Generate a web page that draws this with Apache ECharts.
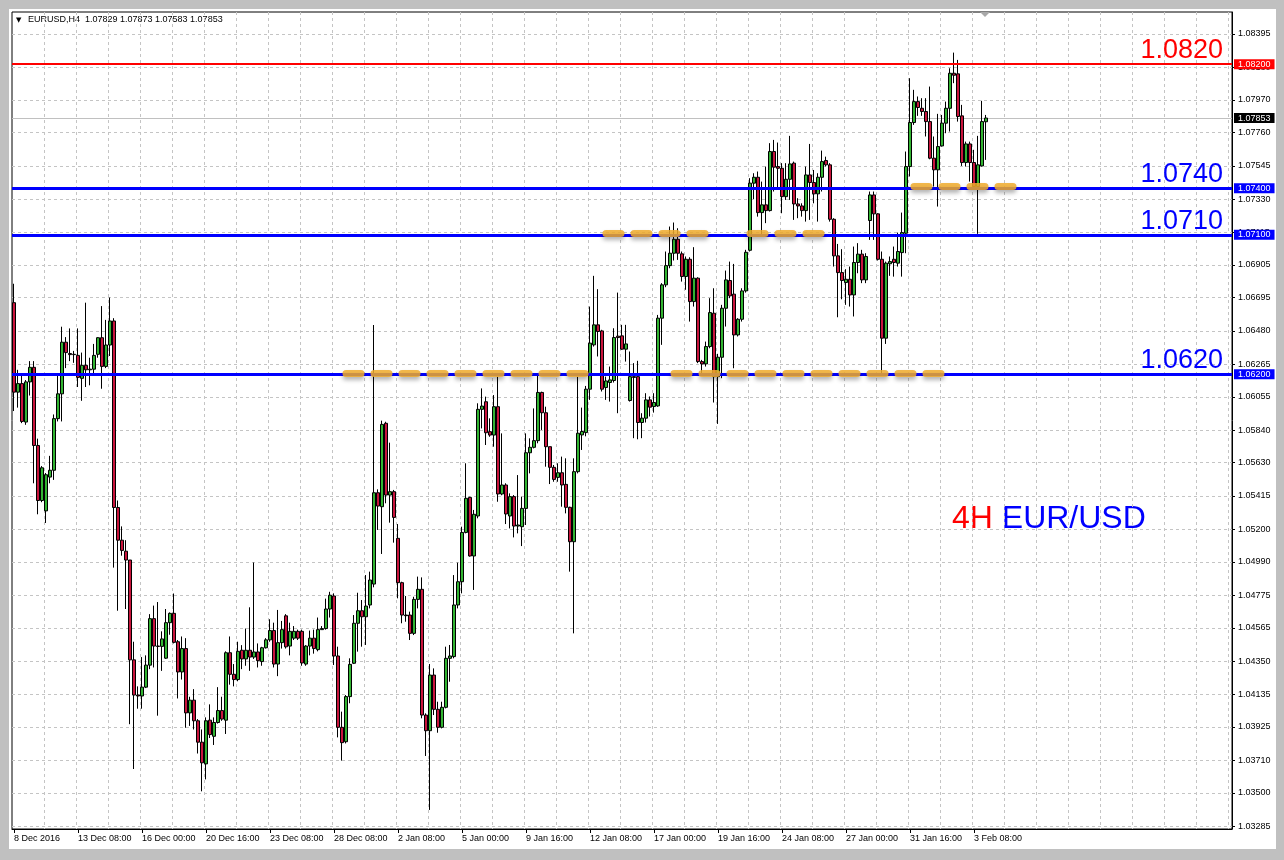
<!DOCTYPE html>
<html>
<head>
<meta charset="utf-8">
<script src="https://cdn.jsdelivr.net/npm/echarts@6/dist/echarts.min.js"></script>
<style>
html,body{margin:0;padding:0;background:#c0c0c0;width:1284px;height:860px;overflow:hidden;}
#panel{position:absolute;left:9px;top:9px;width:1267px;height:840px;background:#ffffff;}
#chart{position:absolute;left:0;top:0;width:1284px;height:860px;}
</style>
</head>
<body>
<div id="panel"></div>
<div id="chart"></div>
<script>
// ---- DATA (EURUSD H4) ----
const symbolName = 'EURUSD,H4';
const opens = [
1.06662,1.06085,1.06140,1.05892,1.06151,1.06245,1.05741,1.05386,1.05319,1.05537,
1.05581,1.05914,1.06074,1.06407,1.06334,1.06327,1.06322,1.06174,1.06258,1.06229,
1.06233,1.06329,1.06436,1.06251,1.06389,1.06544,1.05341,1.05130,1.05059,1.05002,
1.04358,1.04131,1.04125,1.04182,1.04324,1.04624,1.04447,1.04445,1.04369,1.04598,
1.04658,1.04475,1.04280,1.04431,1.04016,1.04098,1.03965,1.03827,1.03687,1.03969,
1.03865,1.03954,1.04031,1.03969,1.04404,1.04265,1.04231,1.04420,1.04364,1.04420,
1.04376,1.04409,1.04347,1.04436,1.04487,1.04547,1.04331,1.04469,1.04642,1.04447,
1.04498,1.04542,1.04542,1.04331,1.04447,1.04498,1.04424,1.04553,1.04560,1.04686,
1.04770,1.04383,1.03923,1.03830,1.04121,1.04336,1.04594,1.04675,1.04636,1.04712,
1.04847,1.05436,1.05346,1.05884,1.05421,1.05443,1.05142,1.04856,1.04647,1.04647,
1.04529,1.04748,1.04813,1.04002,1.03901,1.04260,1.04039,1.03923,1.04052,1.04368,
1.04379,1.04712,1.04862,1.05180,1.05406,1.05028,1.05286,1.05974,1.06023,1.05830,
1.05808,1.05991,1.05428,1.05486,1.05286,1.05411,1.05221,1.05217,1.05335,1.05694,
1.05729,1.05772,1.06083,1.05952,1.05733,1.05600,1.05535,1.05565,1.05490,1.05342,
1.05120,1.05572,1.05809,1.05824,1.06104,1.06390,1.06519,1.06480,1.06115,1.06147,
1.06160,1.06446,1.06448,1.06362,1.06031,1.06185,1.06185,1.05889,1.05917,1.06035,
1.05992,1.05996,1.06562,1.06777,1.06901,1.06981,1.07071,1.06977,1.06831,1.06942,
1.06669,1.06820,1.06282,1.06267,1.06379,1.06594,1.06185,1.06310,1.06626,1.06805,
1.06717,1.06454,1.06555,1.06738,1.07000,1.07433,1.07471,1.07243,1.07293,1.07256,
1.07637,1.07540,1.07529,1.07346,1.07458,1.07562,1.07299,1.07286,1.07256,1.07486,
1.07437,1.07364,1.07471,1.07579,1.07551,1.07200,1.06964,1.06856,1.06792,1.06813,
1.06712,1.06921,1.06975,1.06809,1.07192,1.07357,1.07235,1.06942,1.06433,1.06913,
1.06942,1.06917,1.06985,1.07110,1.07540,1.07824,1.07959,1.07916,1.07895,1.07830,
1.07594,1.07519,1.07673,1.07820,1.07916,1.08142,1.08138,1.07867,1.07566,1.07686,
1.07566,1.07411,1.07544,1.07829
];
const highs = [
1.06784,1.06229,1.06207,1.06163,1.06285,1.06285,1.05785,1.05608,1.05563,1.05674,
1.05941,1.06207,1.06507,1.06440,1.06496,1.06351,1.06496,1.06340,1.06662,1.06307,
1.06396,1.06440,1.06640,1.06551,1.06695,1.06562,1.05386,1.05219,1.05130,1.05002,
1.04475,1.04187,1.04376,1.04387,1.04653,1.04708,1.04731,1.04542,1.04686,1.04664,
1.04786,1.04486,1.04509,1.04498,1.04120,1.04169,1.03976,1.03909,1.03987,1.04071,
1.03987,1.04182,1.04120,1.04413,1.04509,1.04331,1.04475,1.04453,1.04560,1.04697,
1.04986,1.04464,1.04442,1.04498,1.04620,1.04598,1.04680,1.04609,1.04653,1.04598,
1.04576,1.04553,1.04553,1.04453,1.04547,1.04553,1.04631,1.04576,1.04753,1.04797,
1.04787,1.04443,1.04024,1.04131,1.04368,1.04647,1.04791,1.04744,1.04905,1.04927,
1.06518,1.05458,1.05901,1.05894,1.05759,1.05454,1.05234,1.04862,1.04770,1.04669,
1.04765,1.04895,1.04890,1.04013,1.04331,1.04303,1.04088,1.04088,1.04443,1.04454,
1.04905,1.04985,1.05217,1.05626,1.05410,1.05325,1.06013,1.06109,1.06056,1.05916,
1.06066,1.06185,1.05819,1.05497,1.05432,1.05421,1.05550,1.05411,1.05819,1.05787,
1.05980,1.06206,1.06088,1.05991,1.05733,1.05615,1.05626,1.05669,1.05658,1.05346,
1.05658,1.06185,1.05985,1.06125,1.06637,1.06835,1.06749,1.06487,1.06185,1.06250,
1.06497,1.06727,1.06519,1.06519,1.06347,1.06272,1.06287,1.05949,1.06078,1.06057,
1.06078,1.06583,1.06788,1.06992,1.07153,1.07179,1.07142,1.06992,1.06960,1.06955,
1.07020,1.06826,1.06293,1.06411,1.06691,1.06755,1.06332,1.06648,1.06869,1.06927,
1.06912,1.06562,1.06755,1.07003,1.07465,1.07497,1.07508,1.07443,1.07540,1.07691,
1.07712,1.07695,1.07562,1.07562,1.07738,1.07572,1.07336,1.07303,1.07540,1.07686,
1.07518,1.07497,1.07643,1.07604,1.07562,1.07207,1.07041,1.07007,1.06878,1.06895,
1.07024,1.07046,1.07003,1.06981,1.07379,1.07379,1.07239,1.06992,1.06927,1.06960,
1.07024,1.07114,1.07243,1.07637,1.08110,1.08035,1.07992,1.07981,1.07981,1.08056,
1.07734,1.07880,1.07873,1.07959,1.08174,1.08275,1.08228,1.07938,1.07701,1.07701,
1.07648,1.07738,1.07964,1.07873
];
const lows = [
1.05963,1.05985,1.05885,1.05874,1.06063,1.05497,1.05297,1.05375,1.05241,1.05497,
1.05519,1.05896,1.05896,1.06240,1.06285,1.06274,1.06118,1.06029,1.06118,1.06129,
1.06207,1.06307,1.06107,1.06240,1.06318,1.04953,1.04675,1.05030,1.04686,1.03943,
1.03654,1.04043,1.04043,1.04176,1.04298,1.04309,1.03998,1.04287,1.04364,1.04520,
1.04464,1.04109,1.04231,1.03920,1.03932,1.03909,1.03754,1.03510,1.03587,1.03854,
1.03809,1.03947,1.03965,1.03880,1.04198,1.04187,1.04220,1.04298,1.04320,1.04287,
1.04364,1.04309,1.04320,1.04431,1.04475,1.04309,1.04253,1.04431,1.04431,1.04387,
1.04486,1.04486,1.04320,1.04320,1.04387,1.04398,1.04413,1.04553,1.04553,1.04631,
1.04325,1.03858,1.03708,1.03819,1.04078,1.04331,1.04411,1.04443,1.04454,1.04690,
1.04826,1.05196,1.05041,1.05368,1.05243,1.05114,1.04755,1.04594,1.04604,1.04486,
1.04518,1.04690,1.03981,1.03738,1.03390,1.04002,1.03888,1.03916,1.04045,1.04217,
1.04368,1.04690,1.04787,1.05174,1.05024,1.04809,1.05271,1.05851,1.05744,1.05797,
1.05733,1.05378,1.05420,1.05234,1.05206,1.05148,1.05174,1.05092,1.05228,1.05561,
1.05722,1.05755,1.05841,1.05604,1.05492,1.05507,1.05507,1.05346,1.05303,1.04927,
1.04529,1.05561,1.05712,1.05800,1.06035,1.06379,1.06315,1.06089,1.06035,1.06024,
1.06147,1.05949,1.06358,1.06282,1.06024,1.05788,1.05781,1.05788,1.05889,1.05928,
1.05953,1.05990,1.06390,1.06762,1.06884,1.06934,1.06938,1.06798,1.06745,1.06540,
1.06637,1.06272,1.06196,1.06250,1.06368,1.06018,1.05880,1.06175,1.06508,1.06691,
1.06239,1.06444,1.06540,1.06727,1.06992,1.07329,1.07217,1.07088,1.07175,1.07250,
1.07379,1.07400,1.07239,1.07325,1.07325,1.07196,1.07207,1.07217,1.07185,1.07196,
1.07303,1.07185,1.07379,1.07540,1.07185,1.06895,1.06568,1.06684,1.06648,1.06637,
1.06573,1.06852,1.06788,1.06788,1.07067,1.07067,1.06934,1.06207,1.06396,1.06835,
1.06830,1.06895,1.06830,1.06981,1.07476,1.07809,1.07867,1.07867,1.07734,1.07587,
1.07411,1.07282,1.07669,1.07755,1.07766,1.08078,1.07830,1.07544,1.07540,1.07443,
1.07400,1.07106,1.07540,1.07583
];
const closes = [
1.06085,1.06140,1.05896,1.06151,1.06245,1.05741,1.05386,1.05597,1.05552,1.05581,
1.05914,1.06074,1.06407,1.06340,1.06327,1.06329,1.06180,1.06258,1.06229,1.06233,
1.06322,1.06436,1.06251,1.06389,1.06544,1.05341,1.05130,1.05064,1.05002,1.04358,
1.04131,1.04125,1.04182,1.04324,1.04624,1.04447,1.04445,1.04493,1.04598,1.04658,
1.04471,1.04280,1.04431,1.04016,1.04098,1.03965,1.03827,1.03694,1.03965,1.03876,
1.03954,1.04031,1.03976,1.04404,1.04265,1.04231,1.04413,1.04364,1.04420,1.04376,
1.04409,1.04353,1.04436,1.04487,1.04547,1.04331,1.04469,1.04553,1.04442,1.04542,
1.04542,1.04498,1.04338,1.04447,1.04498,1.04431,1.04553,1.04560,1.04686,1.04775,
1.04383,1.03923,1.03824,1.04121,1.04329,1.04594,1.04675,1.04636,1.04705,1.04873,
1.05436,1.05350,1.05877,1.05421,1.05443,1.05277,1.04856,1.04647,1.04643,1.04529,
1.04748,1.04813,1.04002,1.03901,1.04260,1.04039,1.03923,1.04052,1.04368,1.04383,
1.04712,1.04862,1.05180,1.05400,1.05028,1.05297,1.05974,1.05995,1.05823,1.05808,
1.05991,1.05428,1.05486,1.05299,1.05411,1.05221,1.05228,1.05335,1.05694,1.05729,
1.05772,1.06083,1.05952,1.05733,1.05600,1.05522,1.05565,1.05486,1.05342,1.05120,
1.05572,1.05820,1.05831,1.06104,1.06401,1.06519,1.06476,1.06104,1.06157,1.06164,
1.06437,1.06437,1.06362,1.06396,1.06185,1.06180,1.05889,1.05917,1.06035,1.05988,
1.06018,1.06562,1.06777,1.06901,1.06981,1.07071,1.06981,1.06831,1.06942,1.06669,
1.06820,1.06282,1.06267,1.06379,1.06598,1.06185,1.06310,1.06626,1.06809,1.06706,
1.06454,1.06555,1.06738,1.06987,1.07433,1.07471,1.07243,1.07293,1.07256,1.07637,
1.07536,1.07529,1.07346,1.07458,1.07557,1.07299,1.07286,1.07256,1.07486,1.07437,
1.07364,1.07471,1.07572,1.07551,1.07200,1.06964,1.06856,1.06805,1.06813,1.06712,
1.06921,1.06975,1.06809,1.06960,1.07357,1.07235,1.06942,1.06433,1.06917,1.06927,
1.06921,1.06992,1.07114,1.07540,1.07824,1.07959,1.07921,1.07895,1.07830,1.07594,
1.07519,1.07669,1.07820,1.07916,1.08142,1.08129,1.07863,1.07566,1.07686,1.07566,
1.07411,1.07551,1.07830,1.07853
];
// x-axis tick labels, one every 16 bars
const xTickLabels = ['8 Dec 2016','13 Dec 08:00','16 Dec 00:00','20 Dec 16:00','23 Dec 08:00','28 Dec 08:00',
  '2 Jan 08:00','5 Jan 00:00','9 Jan 16:00','12 Jan 08:00','17 Jan 00:00','19 Jan 16:00','24 Jan 08:00',
  '27 Jan 00:00','31 Jan 16:00','3 Feb 08:00'];
// y-axis tick labels (price scale)
const yTickValues = [1.08395,1.08180,1.07970,1.07760,1.07545,1.07330,1.07115,1.06905,1.06695,1.06480,
  1.06265,1.06055,1.05840,1.05630,1.05415,1.05200,1.04990,1.04775,1.04565,1.04350,1.04135,1.03925,
  1.03710,1.03500,1.03285];
// horizontal level lines
const levelValues = [1.0820, 1.0740, 1.0710, 1.0620];
const levelColors = ['#ff0000', '#0000ff', '#0000ff', '#0000ff'];
// highlighted (orange dashed) zones: level, first bar, last bar
const zoneLevels = [1.0621, 1.0621, 1.0711, 1.0711, 1.0741];
const zoneStart  = [83, 165, 148, 184, 225];
const zoneEnd    = [144, 232, 174, 202, 251];
const totalSlots = 305; // bars + right-side chart shift

// ---- BUILD ----
const cats = Array.from({length: totalSlots}, (_, i) => String(i));
const candleData = opens.map((o, i) => [o, closes[i], lows[i], highs[i]]);
const last = opens.length - 1;
const lastClose = closes[last];
const FONT = 'Liberation Sans, Arial, sans-serif';
const ML = {silent: true, symbol: ['none', 'none'], animation: false, precision: 5, emphasis: {disabled: true}};

const chart = echarts.init(document.getElementById('chart'), null, {renderer: 'canvas'});

const option = {
  animation: false,
  textStyle: {fontFamily: FONT},
  grid: {left: 12, right: 52, top: 12, bottom: 31, show: true, borderColor: '#000', borderWidth: 1, backgroundColor: 'transparent'},
  xAxis: {
    type: 'category', data: cats, boundaryGap: true,
    axisLine: {show: true, lineStyle: {color: '#000', width: 1}},
    axisTick: {show: true, alignWithLabel: true, interval: (i) => i % 16 === 0 && i / 16 < xTickLabels.length, length: 4, lineStyle: {color: '#000'}},
    axisLabel: {
      interval: (i) => i % 16 === 0 && i / 16 < xTickLabels.length,
      formatter: (v, i) => xTickLabels[i / 16] || '',
      align: 'left', margin: 5, fontFamily: FONT, fontSize: 9, color: '#000'
    },
    splitLine: {show: true, interval: (i) => i % 8 === 0 && i > 0, lineStyle: {color: '#c4c4c4', type: [3, 3], width: 1}}
  },
  yAxis: {
    type: 'value', position: 'right', min: 1.03267, max: 1.08537,
    axisLine: {show: true, lineStyle: {color: '#000', width: 1}},
    axisTick: {show: true, customValues: yTickValues, length: 3, lineStyle: {color: '#000'}},
    axisLabel: {customValues: yTickValues, formatter: (v) => v.toFixed(5), margin: 6, fontFamily: FONT, fontSize: 9, color: '#000'},
    splitLine: {show: false}
  },
  series: [
    { // horizontal dashed grid at price ticks
      type: 'line', data: [], silent: true, z: 0,
      markLine: Object.assign({}, ML, {
        z: 1, label: {show: false},
        lineStyle: {color: '#c4c4c4', type: [3, 3], width: 1},
        data: yTickValues.map(v => ({yAxis: v}))
      })
    },
    { // current price line
      type: 'line', data: [], silent: true, z: 1,
      markLine: Object.assign({}, ML, {
        z: 1,
        lineStyle: {color: '#c0c0c0', type: 'solid', width: 1},
        label: {show: true, position: 'end', distance: 2, formatter: lastClose.toFixed(5), color: '#fff',
          backgroundColor: '#000', padding: [1, 4, 0, 4], fontSize: 9, fontFamily: FONT},
        data: [{yAxis: lastClose}]
      })
    },
    {
      type: 'candlestick', data: candleData, barWidth: 3, z: 2, silent: true,
      itemStyle: {color: '#32b432', color0: '#c8143c', borderColor: '#000', borderColor0: '#000', borderWidth: 1}
    },
    { // level lines with big labels
      type: 'line', data: [], silent: true, z: 5,
      markLine: Object.assign({}, ML, {
        z: 5,
        data: levelValues.map((v, k) => ({
          yAxis: v,
          lineStyle: {color: levelColors[k], width: k === 0 ? 2 : 3, type: 'solid'},
          label: {show: true, position: 'insideEndTop', distance: [9, 0], formatter: v.toFixed(4),
            color: levelColors[k], fontSize: 27, fontFamily: FONT}
        }))
      })
    },
    { // orange highlighted zones
      type: 'line', data: [], silent: true, z: 6,
      markLine: Object.assign({}, ML, {
        z: 6, label: {show: false},
        lineStyle: {color: 'rgba(240,172,45,0.85)', width: 7, type: [15, 13], cap: 'round',
          shadowBlur: 4, shadowColor: 'rgba(0,0,0,0.35)', shadowOffsetY: 3},
        data: zoneLevels.map((v, k) => [{coord: [zoneStart[k], v]}, {coord: [zoneEnd[k], v]}])
      })
    },
    { // price boxes on the axis
      type: 'line', data: [], silent: true, z: 7,
      markLine: Object.assign({}, ML, {
        z: 7,
        lineStyle: {color: 'rgba(0,0,0,0)', width: 1, type: 'solid'},
        data: levelValues.map((v, k) => ({
          yAxis: v,
          label: {show: true, position: 'end', distance: 2, formatter: v.toFixed(5), color: '#fff',
            backgroundColor: levelColors[k], padding: [1, 4, 0, 4], fontSize: 9, fontFamily: FONT}
        }))
      })
    }
  ],
  graphic: [
    {type: 'text', left: 16, top: 17, style: {text: '\u25BC', fontSize: 7, fill: '#000', fontFamily: 'DejaVu Sans'}},
    {type: 'text', left: 28, top: 15, style: {
      text: symbolName + '  ' + [opens[last], highs[last], lows[last], closes[last]].map(v => v.toFixed(5)).join(' '),
      fontSize: 9, fill: '#000', fontFamily: FONT}},
    {type: 'polygon', shape: {points: [[980, 12], [990, 12], [985, 17]]}, style: {fill: '#a8a8a8'}},
    {type: 'text', left: 952, top: 503, style: {
      text: '{r|4H} {b|EUR/USD}',
      rich: {r: {fill: '#ff0000', fontSize: 32, fontFamily: FONT}, b: {fill: '#0000ff', fontSize: 32, fontFamily: FONT}},
      fontSize: 32, fontFamily: FONT}}
  ]
};
chart.setOption(option);
</script>
</body>
</html>
